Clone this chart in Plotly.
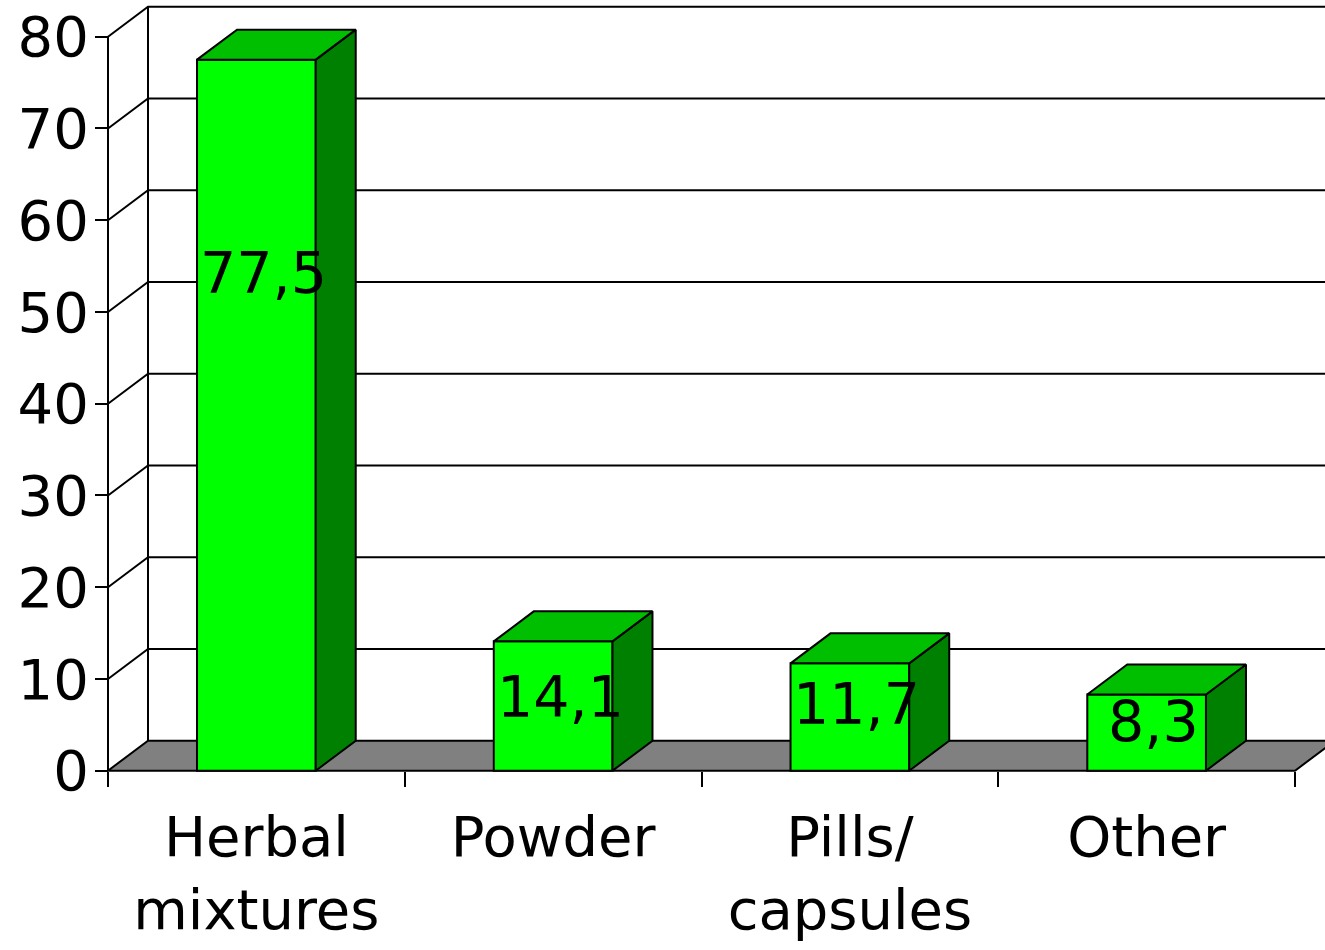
import plotly.graph_objects as go

# ---- data ----
categories = ["Herbal<br>mixtures", "Powder", "Pills/<br>capsules", "Other"]
values = [77.5, 14.1, 11.7, 8.3]
value_labels = ["77,5", "14,1", "11,7", "8,3"]
label_y = [54.3, 7.98, 7.27, 5.3]          # where the value labels sit
y_ticks = [0, 10, 20, 30, 40, 50, 60, 70, 80]
y_max = 80

# ---- geometry / style ----
W, H = 1325, 950
ML, MR, MT, MB = 100, 0, 0, 160
PX_PER_CAT = 296.75
PX_PER_UNIT = 9.175
AXIS_LEFT_PX = 108        # pixel of the front y axis
AXIS_ZERO_PX = 770.7      # pixel of y = 0 on the front plane
DEPTH_X_PX, DEPTH_Y_PX = 40, 30
BAR_W = 0.4
FONT = "DejaVu Sans"
FRONT, SIDE, TOP, FLOOR = "#00FF00", "#008000", "#00BF00", "#808080"
LW = 2

plot_w = W - ML - MR
plot_h = H - MT - MB
xlo = -0.5 - (AXIS_LEFT_PX - ML) / PX_PER_CAT
xhi = xlo + plot_w / PX_PER_CAT
yhi = (AXIS_ZERO_PX - MT) / PX_PER_UNIT
ylo = yhi - plot_h / PX_PER_UNIT
dxu = DEPTH_X_PX / PX_PER_CAT
dyu = DEPTH_Y_PX / PX_PER_UNIT

n = len(values)
xs = list(range(n))
left_edge, right_edge = -0.5, n - 0.5

fig = go.Figure()

# front faces
fig.add_trace(go.Bar(x=xs, y=values, width=BAR_W,
                     marker=dict(color=FRONT, line=dict(color="black", width=LW)),
                     hoverinfo="skip", showlegend=False))

hw = BAR_W / 2
for i, v in zip(xs, values):
    # side face
    fig.add_trace(go.Scatter(
        x=[i + hw, i + hw + dxu, i + hw + dxu, i + hw, i + hw],
        y=[0, dyu, v + dyu, v, 0],
        fill="toself", fillcolor=SIDE, mode="lines",
        line=dict(color="black", width=LW), hoverinfo="skip", showlegend=False))
    # top face
    fig.add_trace(go.Scatter(
        x=[i - hw, i - hw + dxu, i + hw + dxu, i + hw, i - hw],
        y=[v, v + dyu, v + dyu, v, v],
        fill="toself", fillcolor=TOP, mode="lines",
        line=dict(color="black", width=LW), hoverinfo="skip", showlegend=False))

shapes = []
# back wall gridlines with side wall diagonals
for t in y_ticks[1:]:
    shapes.append(dict(type="path", xref="x", yref="y", layer="below",
                       path=f"M {left_edge},{t} L {left_edge + dxu},{t + dyu} L {xhi + 1},{t + dyu}",
                       line=dict(color="black", width=LW)))
# back wall left vertical
shapes.append(dict(type="line", xref="x", yref="y", layer="below",
                   x0=left_edge + dxu, y0=dyu, x1=left_edge + dxu, y1=y_max + dyu,
                   line=dict(color="black", width=LW)))
# front y axis line
shapes.append(dict(type="line", xref="x", yref="y", layer="below",
                   x0=left_edge, y0=0, x1=left_edge, y1=y_max,
                   line=dict(color="black", width=LW)))
# floor
shapes.append(dict(type="path", xref="x", yref="y", layer="below",
                   path=(f"M {left_edge},0 L {right_edge},0 L {right_edge + dxu},{dyu} "
                         f"L {left_edge + dxu},{dyu} Z"),
                   fillcolor=FLOOR, line=dict(color="black", width=LW)))

annotations = [dict(x=i, y=ly, text=t, showarrow=False, xshift=7,
                    font=dict(family=FONT, size=57, color="black"),
                    xanchor="center", yanchor="middle")
               for i, ly, t in zip(xs, label_y, value_labels)]

fig.update_layout(
    width=W, height=H,
    margin=dict(l=ML, r=MR, t=MT, b=MB, pad=0),
    paper_bgcolor="white", plot_bgcolor="white",
    showlegend=False, bargap=0,
    shapes=shapes, annotations=annotations,
    xaxis=dict(range=[xlo, xhi], tickmode="array", tickvals=xs, ticktext=categories,
               ticks="", showgrid=False, zeroline=False, showline=False,
               anchor="free", position=(0 - ylo) / (yhi - ylo),
               tickfont=dict(family=FONT, size=56, color="black"),
               ticklabelstandoff=28,
               minor=dict(tickmode="array", tickvals=[k - 0.5 for k in range(n + 1)],
                          ticks="outside", ticklen=15, tickwidth=LW, tickcolor="black",
                          showgrid=False)),
    yaxis=dict(range=[ylo, yhi], tickmode="array", tickvals=y_ticks,
               ticks="outside", ticklen=13, tickwidth=LW, tickcolor="black",
               showgrid=False, zeroline=False, showline=False,
               anchor="free", position=(left_edge - xlo) / (xhi - xlo),
               tickfont=dict(family=FONT, size=56, color="black"),
               ticklabelstandoff=-5),
)

fig.write_html("out.html",
               config={"displayModeBar": False, "staticPlot": True},
               post_script="document.body.style.margin='0';document.body.style.overflow='hidden';")
